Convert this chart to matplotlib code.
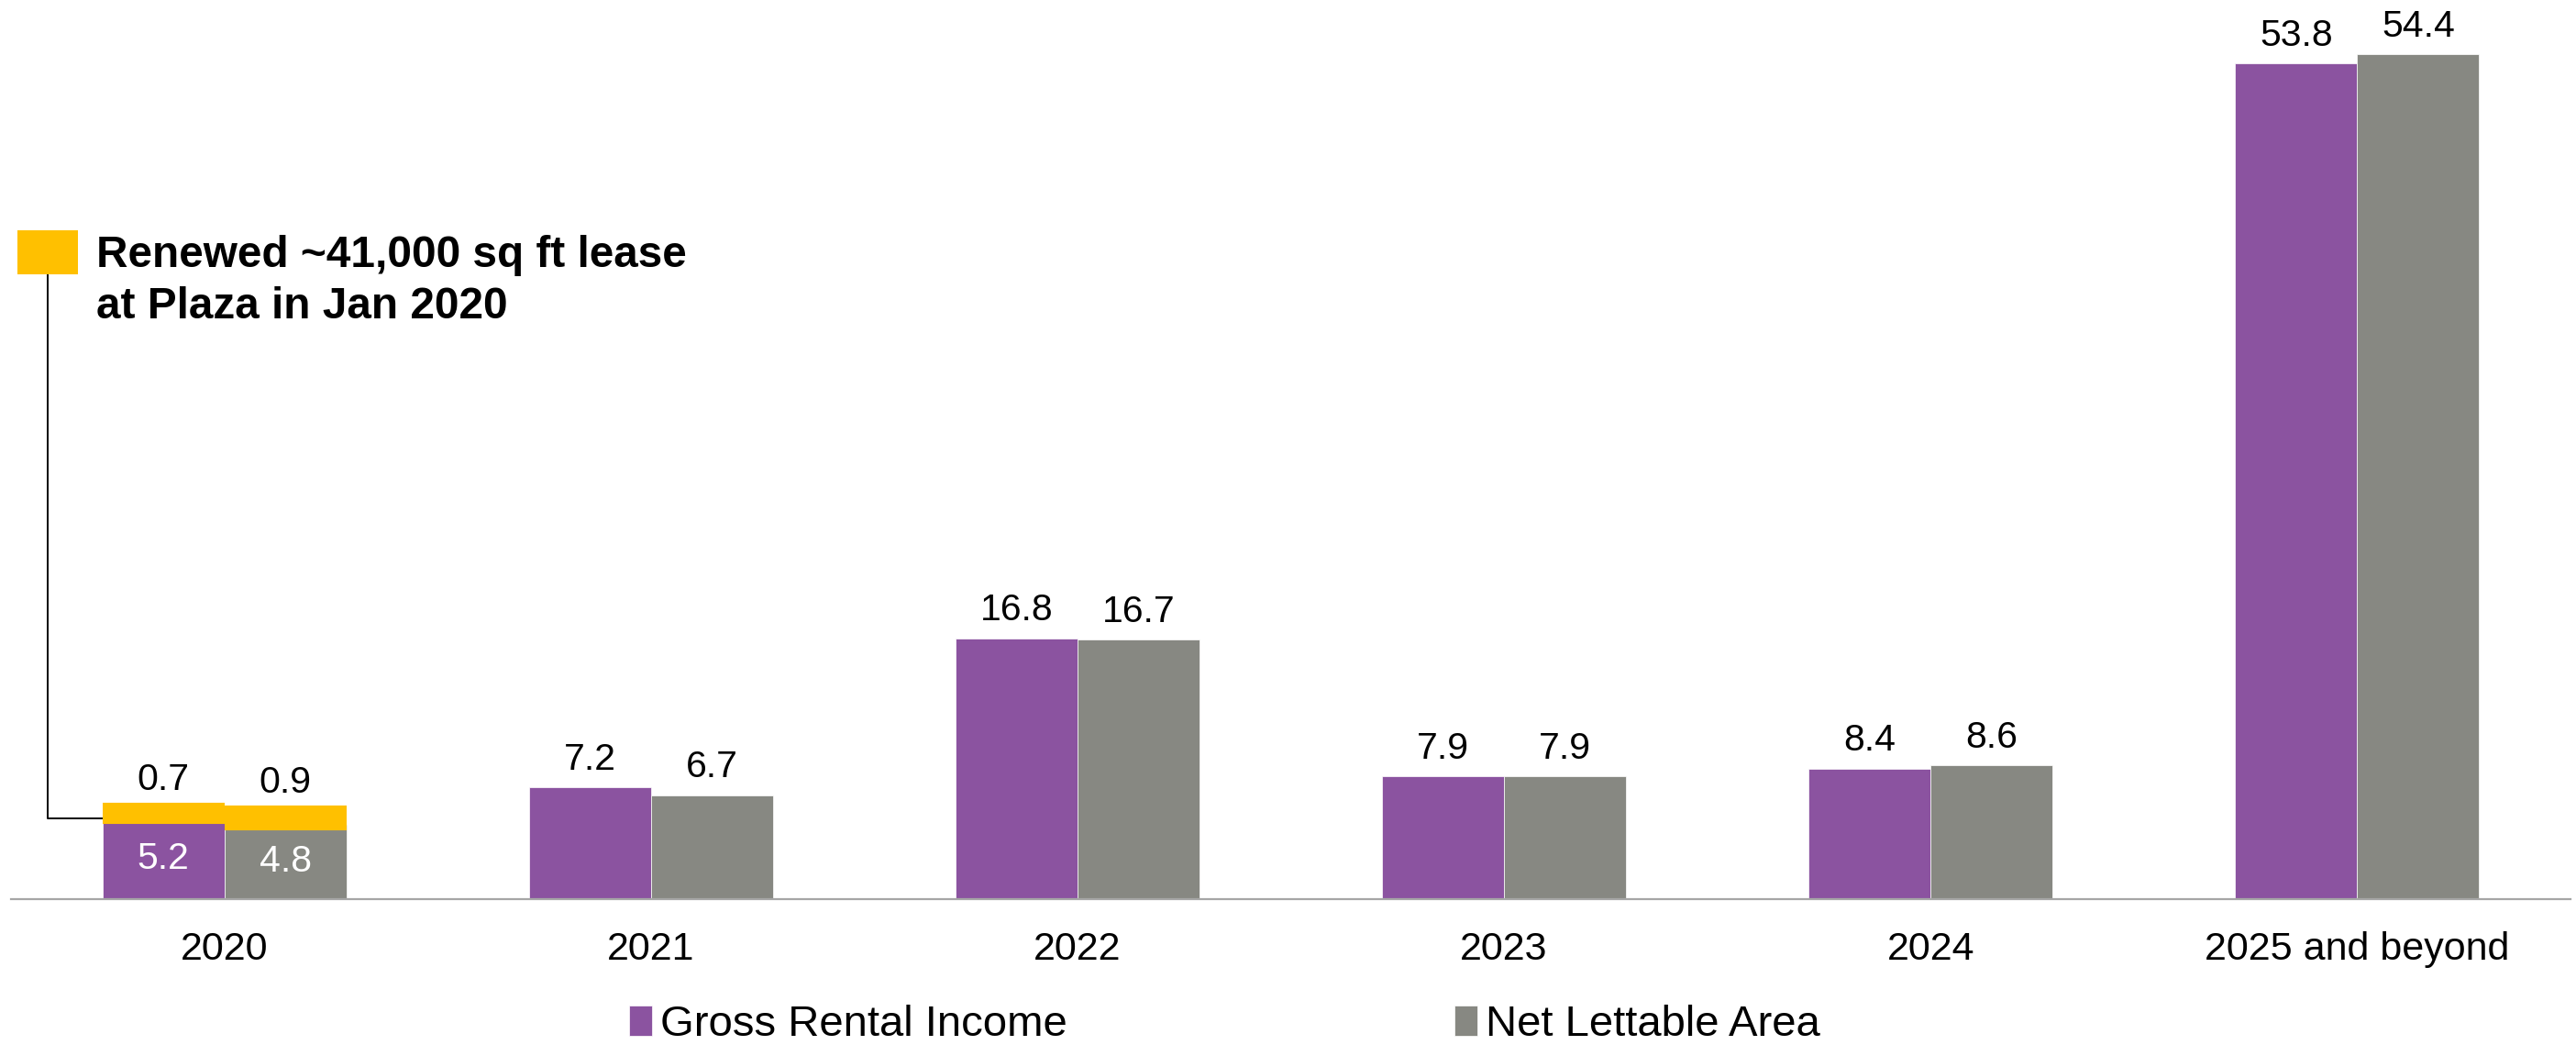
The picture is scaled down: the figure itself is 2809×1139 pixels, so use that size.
import matplotlib
matplotlib.use("Agg")
import matplotlib.pyplot as plt
from matplotlib.patches import Rectangle
import numpy as np

# Lease expiry profile (% of portfolio) by year
categories = ["2020", "2021", "2022", "2023", "2024", "2025 and beyond"]
gross_rental_income = [5.2, 7.2, 16.8, 7.9, 8.4, 53.8]
net_lettable_area = [4.8, 6.7, 16.7, 7.9, 8.6, 54.4]
# Renewed portion stacked on the 2020 bars
renewed_gri_2020 = 0.7
renewed_nla_2020 = 0.9

PURPLE = "#8B53A0"
GREY = "#878882"
YELLOW = "#FFC000"

plt.rcParams["font.family"] = ["Liberation Sans", "DejaVu Sans"]

W, H = 2809, 1139
fig = plt.figure(figsize=(W / 100, H / 100), dpi=100)
ax = fig.add_axes([12 / W, 1 - 980 / H, (2803 - 12) / W, 980 / H])

x = np.arange(len(categories))
bw = 0.286

b1 = ax.bar(x - bw / 2, gross_rental_income, bw, color=PURPLE,
            edgecolor="white", linewidth=0.5, label="Gross Rental Income", zorder=2)
b2 = ax.bar(x + bw / 2, net_lettable_area, bw, color=GREY,
            edgecolor="white", linewidth=0.5, label="Net Lettable Area", zorder=2)

# Renewed lease segments on top of 2020 (thick rounded outline, clipped to bar width)
for xc, base, val in [(x[0] - bw / 2, gross_rental_income[0], renewed_gri_2020),
                      (x[0] + bw / 2, net_lettable_area[0], renewed_nla_2020)]:
    seg = ax.bar(xc, val, bw, bottom=base, color=YELLOW, edgecolor=YELLOW,
                 linewidth=8, joinstyle="round", zorder=3)
    clip = Rectangle((xc - bw / 2, 0), bw, 100, transform=ax.transData)
    for p in seg:
        p.set_clip_path(clip)

label_fs = 29.5
# Values above bars (2020 shows the renewed amount on top)
tops_gri = [gross_rental_income[0] + renewed_gri_2020] + gross_rental_income[1:]
tops_nla = [net_lettable_area[0] + renewed_nla_2020] + net_lettable_area[1:]
text_gri = [renewed_gri_2020] + gross_rental_income[1:]
text_nla = [renewed_nla_2020] + net_lettable_area[1:]
for i in range(len(categories)):
    ax.annotate(f"{text_gri[i]:.1f}", (x[i] - bw / 2, tops_gri[i]),
                xytext=(0, 14), textcoords="offset points",
                ha="center", va="baseline", fontsize=label_fs, color="black")
    ax.annotate(f"{text_nla[i]:.1f}", (x[i] + bw / 2, tops_nla[i]),
                xytext=(0, 14), textcoords="offset points",
                ha="center", va="baseline", fontsize=label_fs, color="black")

# Values inside the 2020 base segments
ax.text(x[0] - bw / 2, gross_rental_income[0] / 2, f"{gross_rental_income[0]:.1f}",
        ha="center", va="center", fontsize=label_fs, color="white", zorder=4)
ax.text(x[0] + bw / 2, net_lettable_area[0] / 2, f"{net_lettable_area[0]:.1f}",
        ha="center", va="center", fontsize=label_fs, color="white", zorder=4)

ax.set_xlim(-0.5, 5.5)
ax.set_ylim(0, 980 / 16.93)
ax.set_xticks(x)
ax.set_xticklabels(categories, fontsize=31)
ax.tick_params(axis="x", length=0, pad=25)
ax.set_yticks([])
for s in ["top", "right", "left"]:
    ax.spines[s].set_visible(False)
ax.spines["bottom"].set_color("#A6A6A6")
ax.spines["bottom"].set_linewidth(1.6)

# Callout for the renewed lease
line_x = -0.415
ax.plot([line_x, line_x, x[0] - bw], [40.2, gross_rental_income[0], gross_rental_income[0]],
        color="black", linewidth=1.4, clip_on=False, zorder=1)
ax.add_patch(Rectangle((-0.486, 40.2), 0.142, 2.84, facecolor=YELLOW,
                       edgecolor="none", clip_on=False))
ax.text(-0.301, 40.7, "Renewed ~41,000 sq ft lease", fontsize=34.4,
        fontweight="bold", ha="left", va="baseline")
ax.text(-0.301, 37.4, "at Plaza in Jan 2020", fontsize=34.4,
        fontweight="bold", ha="left", va="baseline")

fig.legend(handles=[b1, b2], loc="center left",
           bbox_to_anchor=(686 / W, 1 - 1117 / H), ncol=2, frameon=False,
           fontsize=34, borderpad=0, borderaxespad=0,
           handlelength=0.53, handleheight=0.72, handletextpad=0.19,
           columnspacing=8.95)

fig.savefig("out.png", dpi=100, facecolor="white")
